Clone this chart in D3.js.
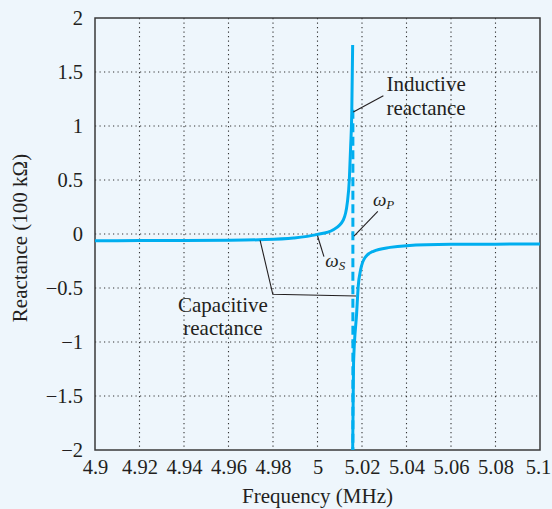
<!DOCTYPE html>
<html><head><meta charset="utf-8">
<script src="https://cdn.jsdelivr.net/npm/d3@7"></script>
<style>
html,body{margin:0;padding:0;background:#eef6fc;}
svg{display:block;}
text{font-family:"Liberation Serif","Times New Roman",serif;fill:#231f20;}
</style></head>
<body>
<svg id="chart" width="552" height="509"></svg>
<script>
// ---- data ----
const xTicks = [4.9, 4.92, 4.94, 4.96, 4.98, 5, 5.02, 5.04, 5.06, 5.08, 5.1];
const xTickLabels = ["4.9","4.92","4.94","4.96","4.98","5","5.02","5.04","5.06","5.08","5.1"];
const yTicks = [2, 1.5, 1, 0.5, 0, -0.5, -1, -1.5, -2];
const yTickLabels = ["2","1.5","1","0.5","0","\u22120.5","\u22121","\u22121.5","\u22122"];

// below f_p branch (capacitive -> series resonance -> inductive)
const lowFreq = [4.90, 4.92, 4.94, 4.96, 4.974, 4.9892, 4.9996, 5.0071, 5.0116, 5.0134, 5.0143, 5.0149, 5.0154, 5.0158];
const lowReact = [-0.062, -0.061, -0.060, -0.058, -0.053, -0.037, -0.006, 0.04, 0.13, 0.29, 0.50, 0.81, 1.12, 1.75];
// above f_p branch (capacitive)
const highFreq = [5.0158, 5.0162, 5.0176, 5.0183, 5.0194, 5.0213, 5.0251, 5.0326, 5.040, 5.060, 5.080, 5.100];
const highReact = [-2.0, -1.2, -0.73, -0.485, -0.33, -0.22, -0.16, -0.124, -0.108, -0.096, -0.094, -0.093];
// parallel resonance asymptote
const fP = 5.0159;
const asymRange = [1.15, -2.0];

// ---- layout ----
const margin = {left: 95, top: 18, right: 12, bottom: 59};
const W = 552, H = 509;
const iw = W - margin.left - margin.right, ih = H - margin.top - margin.bottom;

const svg = d3.select("#chart");
const g = svg.append("g").attr("transform", `translate(${margin.left},${margin.top})`);
const x = d3.scaleLinear().domain([4.9, 5.1]).range([0, iw]);
const y = d3.scaleLinear().domain([-2, 2]).range([ih, 0]);

// grid
const gridStyle = sel => sel.attr("stroke", "#333").attr("stroke-width", 1.1).attr("stroke-dasharray", "1.2,3.3");
g.append("g").selectAll("line").data(xTicks.slice(1, -1)).join("line")
  .attr("x1", d => x(d)).attr("x2", d => x(d)).attr("y1", 0).attr("y2", ih).call(gridStyle);
g.append("g").selectAll("line").data(yTicks.slice(1, -1)).join("line")
  .attr("y1", d => y(d)).attr("y2", d => y(d)).attr("x1", 0).attr("x2", iw).call(gridStyle);

// axes (labels only)
const xAxis = d3.axisBottom(x).tickValues(xTicks).tickFormat((d, i) => xTickLabels[i]).tickSize(0).tickPadding(9);
const gx = g.append("g").attr("transform", `translate(0,${ih})`).call(xAxis);
gx.select(".domain").remove();
gx.selectAll("text").attr("font-size", 20.5).attr("font-family", "Liberation Serif").attr("fill", "#231f20")
  .attr("dx", (d, i) => i === xTicks.length - 1 ? -2 : 0);

const yAxis = d3.axisLeft(y).tickValues(yTicks).tickFormat((d, i) => yTickLabels[i]).tickSize(0).tickPadding(12);
const gy = g.append("g").call(yAxis);
gy.select(".domain").remove();
gy.selectAll("text").attr("font-size", 20.5).attr("font-family", "Liberation Serif").attr("fill", "#231f20");

// frame
g.append("rect").attr("x", 0).attr("y", 0).attr("width", iw).attr("height", ih)
  .attr("fill", "none").attr("stroke", "#3a3a3a").attr("stroke-width", 1.5);

// axis titles
svg.append("text").attr("x", margin.left + iw / 2).attr("y", 503).attr("text-anchor", "middle")
  .attr("font-size", 21).text("Frequency (MHz)");
svg.append("text").attr("transform", `translate(27,${margin.top + ih / 2 + 4}) rotate(-90)`)
  .attr("text-anchor", "middle").attr("font-size", 21).text("Reactance (100 k\u03A9)");

// curves
const cyan = "#00aeef";
const line = d3.line().x(d => x(d[0])).y(d => y(d[1])).curve(d3.curveMonotoneX);
const lowPts = lowFreq.map((f, i) => [f, lowReact[i]]);
const highPts = highFreq.map((f, i) => [f, highReact[i]]);

g.append("line").attr("x1", x(fP)).attr("x2", x(fP)).attr("y1", y(asymRange[0])).attr("y2", y(asymRange[1]))
  .attr("stroke", cyan).attr("stroke-width", 3).attr("stroke-dasharray", "9,4.5");
g.append("path").datum(lowPts).attr("d", line).attr("fill", "none").attr("stroke", cyan).attr("stroke-width", 3);
g.append("path").datum(highPts).attr("d", line).attr("fill", "none").attr("stroke", cyan).attr("stroke-width", 3);

// annotations (data coordinates)
const leaders = [
  [[5.0161, 1.13], [5.0296, 1.28]],
  [[5.0164, -0.02], [5.0271, 0.21]],
  [[5.0000, -0.016], [5.0029, -0.21]],
  [[4.9742, -0.058], [4.9799, -0.558], [5.0173, -0.574]]
];
const straight = d3.line().x(d => x(d[0])).y(d => y(d[1]));
g.append("g").selectAll("path").data(leaders).join("path").attr("d", straight)
  .attr("fill", "none").attr("stroke", "#231f20").attr("stroke-width", 1.1);

const labels = [
  {f: 5.0488, v: 1.325, t: "Inductive"},
  {f: 5.0488, v: 1.10, t: "reactance"},
  {f: 4.9575, v: -0.722, t: "Capacitive"},
  {f: 4.9575, v: -0.935, t: "reactance"}
];
g.append("g").selectAll("text").data(labels).join("text")
  .attr("x", d => x(d.f)).attr("y", d => y(d.v)).attr("text-anchor", "middle")
  .attr("font-size", 21).text(d => d.t);

const omegas = [
  {f: 5.0249, v: 0.26, sub: "P"},
  {f: 5.0035, v: -0.31, sub: "S"}
];
const om = g.append("g").selectAll("text").data(omegas).join("text")
  .attr("x", d => x(d.f)).attr("y", d => y(d.v)).attr("font-size", 19).attr("font-style", "italic");
om.append("tspan").text("\u03C9");
om.append("tspan").attr("font-size", 13).attr("dy", 3).text(d => d.sub);
</script>
</body></html>
